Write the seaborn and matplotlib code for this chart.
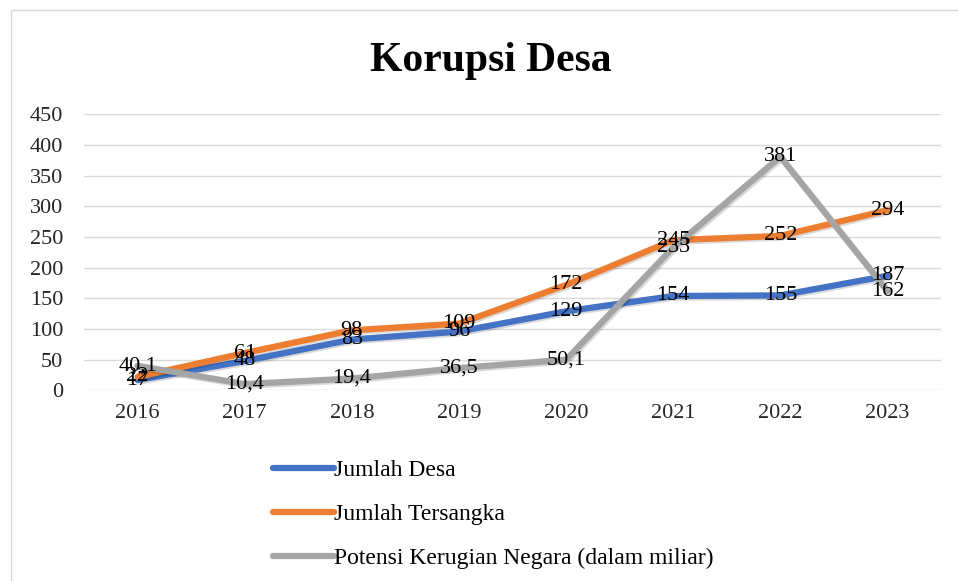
import pandas as pd
import matplotlib.pyplot as plt
import matplotlib.patheffects as pe
import seaborn as sns

# data
tahun = ["2016", "2017", "2018", "2019", "2020", "2021", "2022", "2023"]
jumlah_desa = [17, 48, 83, 96, 129, 154, 155, 187]
jumlah_tersangka = [22, 61, 98, 109, 172, 245, 252, 294]
potensi_kerugian = [40.1, 10.4, 19.4, 36.5, 50.1, 233, 381, 162]
series_names = ["Jumlah Desa", "Jumlah Tersangka", "Potensi Kerugian Negara (dalam miliar)"]
colors = ["#4472C4", "#ED7D31", "#A5A5A5"]

df = pd.DataFrame({
    "Tahun": tahun * 3,
    "Nilai": jumlah_desa + jumlah_tersangka + potensi_kerugian,
    "Seri": [series_names[0]] * 8 + [series_names[1]] * 8 + [series_names[2]] * 8,
})

sns.set_theme(style="white")
plt.rcParams['font.family'] = ['Liberation Serif', 'DejaVu Serif']

fig = plt.figure(figsize=(9.58, 5.81), dpi=100)
ax = fig.add_axes([0.0877, 0.328, 0.8946, 0.475])

shadow = [pe.SimpleLineShadow(offset=(1.2, -1.2), alpha=0.15, shadow_color="black"), pe.Normal()]
sns.lineplot(data=df, x="Tahun", y="Nilai", hue="Seri", palette=colors,
             linewidth=4.5, sort=False, ax=ax, legend=False)
for line in ax.get_lines():
    line.set_path_effects(shadow)
    line.set_solid_capstyle("round")

# data labels centred on the points
for vals in [jumlah_desa, jumlah_tersangka, potensi_kerugian]:
    for i, v in enumerate(vals):
        txt = f"{v:g}".replace(".", ",")
        ax.text(i, v, txt, ha="center", va="center", fontsize=16, color="black")

ax.set_xlim(-0.5, 7.5)
ax.set_ylim(0, 450)
ax.set_yticks(range(0, 451, 50))
ax.yaxis.grid(True, color="#D9D9D9", linewidth=1)
ax.xaxis.grid(False)
for s in ax.spines.values():
    s.set_visible(False)
ax.tick_params(axis="both", labelsize=16, length=0, colors="#262626")
ax.tick_params(axis="x", pad=10)
ax.tick_params(axis="y", pad=15)
ax.set_xlabel("")
ax.set_ylabel("")

fig.text(0.512, 0.895, "Korupsi Desa", ha="center", va="center",
         fontsize=30, fontweight="bold", color="black")

# legend below the plot
handles = [plt.Line2D([0], [0], color=c, linewidth=4.5, solid_capstyle="round") for c in colors]
fig.legend(handles, series_names, loc="upper left", bbox_to_anchor=(0.275, 0.225),
           frameon=False, fontsize=17, handlelength=2.6, handletextpad=0.0,
           labelspacing=0.95, borderaxespad=0, labelcolor="black")

# light frame around the chart area
frame = plt.Rectangle((0.011, -0.05), 1.5, 1.033, transform=fig.transFigure,
                      fill=False, edgecolor="#D9D9D9", linewidth=1)
fig.patches.append(frame)

fig.savefig("out.png", dpi=100)
